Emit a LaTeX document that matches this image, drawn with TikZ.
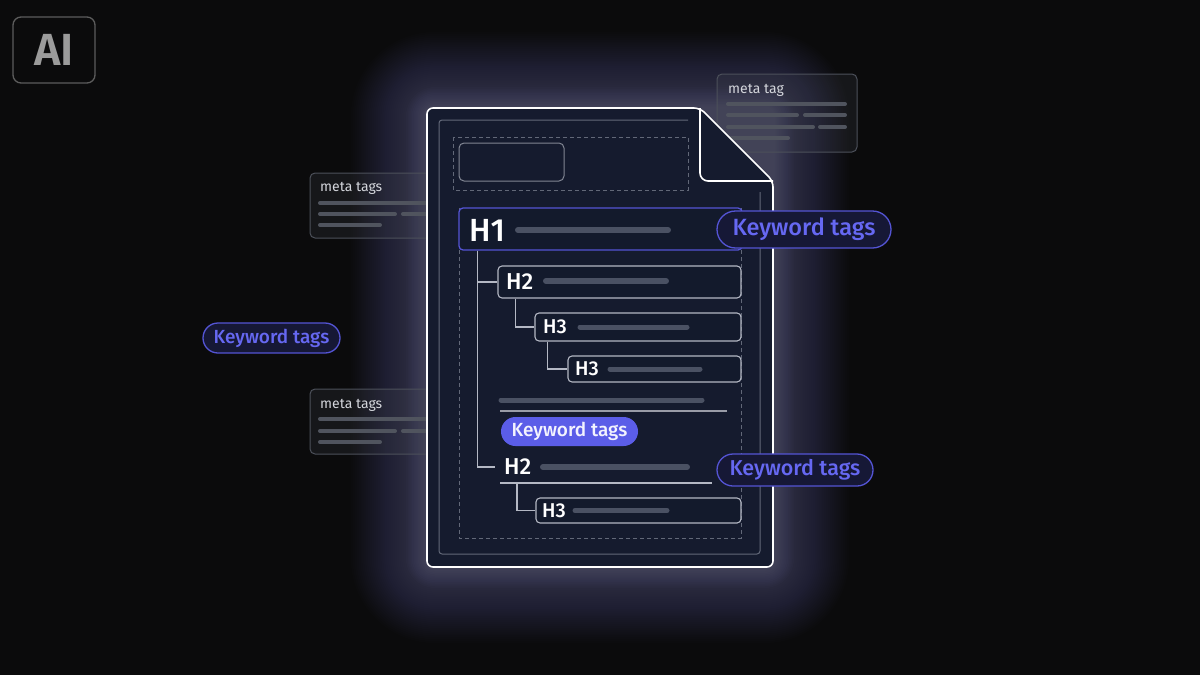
\documentclass[tikz,border=0pt]{standalone}
\usepackage{fontspec}
\setmainfont{Fira Sans}
\newfontfamily\semifont{Fira Sans SemiBold}
\newfontfamily\medfont{Fira Sans Medium}
\usetikzlibrary{calc,shapes.misc}
\definecolor{bg}{HTML}{0B0B0C}
\definecolor{docfill}{HTML}{151B2E}
\definecolor{boxfill}{HTML}{131A2C}
\definecolor{barc}{HTML}{4A5163}
\definecolor{boxline}{HTML}{B4B8C4}
\definecolor{innerline}{HTML}{626878}
\definecolor{purp}{HTML}{5454D4}
\definecolor{purptext}{HTML}{6668F2}
\definecolor{pillfill}{HTML}{5B5DE8}
\definecolor{pilldark}{HTML}{161836}
\definecolor{metaline}{HTML}{50545E}
\definecolor{metabox}{HTML}{4C505A}
\definecolor{metatext}{HTML}{D4D6DC}
\definecolor{glowc}{HTML}{8088B0}
\definecolor{aigray}{HTML}{9B9B9B}
\definecolor{aibord}{HTML}{5C5C5C}
\tikzset{
  hbox/.style={draw=boxline, fill=boxfill, line width=1.1, rounded corners=4, inner sep=0},
  hlabel/.style={anchor=west, inner sep=0, text=white, font=\medfont\fontsize{#1}{#1}\selectfont},
  hbar/.style={barc, line width=#1, line cap=round},
  conn/.style={boxline, line width=1.1},
  dashbox/.style={innerline, line width=1, dash pattern=on 4pt off 3pt},
  kwpill/.style={rounded rectangle, draw=purp, fill=pilldark, line width=1.3, inner sep=0, text=purptext},
  metabx/.style={draw=metabox, fill=metabox, fill opacity=0.18, line width=1, rounded corners=5, inner sep=0},
  metatxt/.style={anchor=west, inner sep=0, text=metatext, font=\fontsize{14}{14}\selectfont},
  mline/.style={metaline, line width=4, line cap=round},
}
\begin{document}
\begin{tikzpicture}[x=1pt,y=-1pt]
\fill[bg] (0,0) rectangle (1200,675);
\useasboundingbox (0,0) rectangle (1200,675);

% glow
\foreach \r in {1,...,40} {
  \pgfmathsetmacro{\d}{1.9*\r}
  \fill[glowc, opacity=0.016, rounded corners={8+\d}] ({427-\d},{108-\d}) rectangle ({773+\d},{567+\d});
}
\foreach \r in {1,...,14} {
  \pgfmathsetmacro{\d}{1.5*\r}
  \fill[glowc, opacity=0.018, rounded corners={8+\d}] ({427-\d},{108-\d}) rectangle ({773+\d},{567+\d});
}

% AI logo
\node[draw=aibord, line width=1.3, rounded corners=8, minimum width=82, minimum height=66, inner sep=0,
  text=aigray, font=\semifont\fontsize{45}{45}\selectfont] (ai) at (54,50) {AI};

% meta boxes (behind the document)
\node[metabx, minimum width=140, minimum height=78] (m1) at (787,113) {};
\node[metatxt] (m1t) at (728,90) {meta tag};
\draw[mline] (728,104) -- (845,104);
\draw[mline] (728,115) -- (797,115) (805,115) -- (845,115);
\draw[mline] (728,127) -- (813,127) (820,127) -- (845,127);
\draw[mline] (728,138) -- (788,138);

\node[metabx, minimum width=140, minimum height=65] (m2) at (380,205.5) {};
\node[metatxt] (m2t) at (320,188) {meta tags};
\draw[mline] (320,203) -- (440,203);
\draw[mline] (320,214) -- (395,214) (403,214) -- (440,214);
\draw[mline] (320,225) -- (380,225);

\node[metabx, minimum width=140, minimum height=65] (m3) at (380,421.5) {};
\node[metatxt] (m3t) at (320,405) {meta tags};
\draw[mline] (320,419) -- (440,419);
\draw[mline] (320,431) -- (395,431) (403,431) -- (440,431);
\draw[mline] (320,442) -- (380,442);

% left keyword pill
\node[kwpill, minimum width=137, minimum height=30, font=\medfont\fontsize{19}{19}\selectfont] (kw2) at (271.5,338) {Keyword tags};

% document
\draw[white, line width=1.6, fill=docfill, rounded corners=6]
  (427,300) -- (427,108) -- (700,108) -- (773,181) -- (773,567) -- (427,567) -- cycle;
\draw[white, line width=1.6, rounded corners=8] (700,108) -- (700,181) -- (773,181);
\draw[innerline, line width=1, rounded corners=3] (688,120) -- (439,120) -- (439,554) -- (760,554) -- (760,192);

% header area
\draw[dashbox] (453,137) rectangle (688,190);
\node[draw=innerline!80!white, line width=1, rounded corners=5, minimum width=105, minimum height=38, inner sep=0] (logo) at (511.5,162) {};

% content dashed area
\draw[dashbox] (459,208) rectangle (741,538);

% H1
\node[hbox, draw=purp, line width=1.3, minimum width=283, minimum height=42] (h1) at (600.5,229) {};
\node[hlabel=32] (h1t) at (469,230) {H1};
\draw[hbar=6] (518,230) -- (668,230);

% H2
\node[hbox, minimum width=243, minimum height=32] (h2) at (619.5,282) {};
\node[hlabel=23] (h2t) at (506,281.5) {H2};
\draw[hbar=6] (546,281) -- (666,281);

% H3 a
\node[hbox, minimum width=206, minimum height=28] (h3a) at (638,327) {};
\node[hlabel=20] (h3at) at (543,327) {H3};
\draw[hbar=5] (580,327) -- (687,327);

% H3 b
\node[hbox, minimum width=173, minimum height=26] (h3b) at (654.5,369) {};
\node[hlabel=20] (h3bt) at (575,369) {H3};
\draw[hbar=5] (610,369) -- (700,369);

% paragraph
\draw[hbar=5] (501,400) -- (702,400);
\draw[boxline!85!black, line width=1.1] (500,411) -- (727,411);
\node[rounded rectangle, fill=pillfill, inner sep=0, minimum width=137, minimum height=29,
  text=white!92!purptext, font=\medfont\fontsize{19}{19}\selectfont] (kw3) at (569.5,431.5) {Keyword tags};

% H2 bottom
\node[hlabel=23] (h2b) at (504,467) {H2};
\draw[hbar=6] (543,467) -- (687,467);
\draw[boxline, line width=1.1] (500,483) -- (712,483);

% H3 c
\node[hbox, minimum width=205, minimum height=25] (h3c) at (638.5,510.5) {};
\node[hlabel=20] (h3ct) at (542,510.5) {H3};
\draw[hbar=5] (575,510.5) -- (667,510.5);

% tree connectors
\coordinate (h2bend) at ($(h2b.west)+(-9,0)$);
\draw[conn] ($(h1.south west)+(19,0)$) |- (h2.west);
\draw[conn] ($(h1.south west)+(19,0)$) |- (h2bend);
\draw[conn] ($(h2.south west)+(18,0)$) |- (h3a.west);
\draw[conn] ($(h3a.south west)+(13,0)$) |- (h3b.west);
\draw[conn] (517,483) |- (h3c.west);

% right keyword pills
\node[kwpill, minimum width=174, minimum height=37, font=\medfont\fontsize{23.5}{23.5}\selectfont] (kw1) at (804,229.5) {Keyword tags};
\node[kwpill, minimum width=156, minimum height=32, font=\medfont\fontsize{21.5}{21.5}\selectfont] (kw4) at (795,470) {Keyword tags};
\end{tikzpicture}
\end{document}
